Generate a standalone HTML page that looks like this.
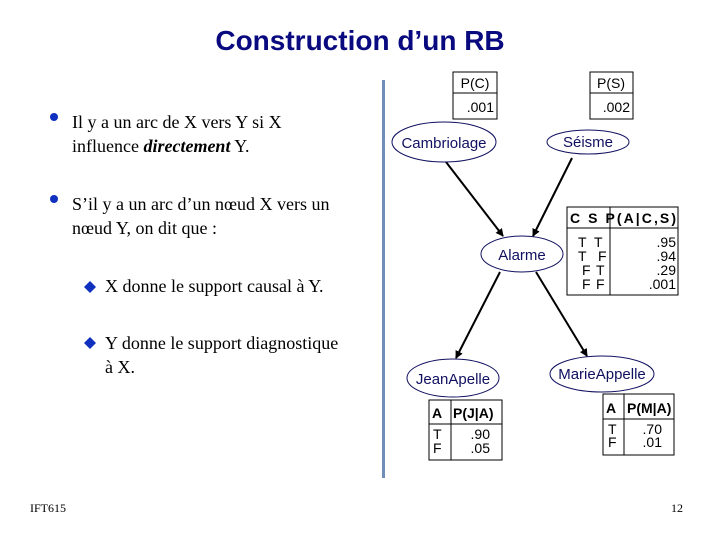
<!DOCTYPE html>
<html><head><meta charset="utf-8"><style>
html,body{margin:0;padding:0;background:#fff}
svg{display:block}
.s{font-family:"Liberation Serif",serif;font-size:18px;fill:#000}
.a{font-family:"Liberation Sans",sans-serif;font-size:14px;fill:#000}
.n{font-family:"Liberation Sans",sans-serif;font-size:15px;fill:#101060}
</style></head><body>
<svg width="720" height="540" viewBox="0 0 720 540" xmlns="http://www.w3.org/2000/svg">
<defs><marker id="ar" markerWidth="8" markerHeight="8" refX="7" refY="4" orient="auto" markerUnits="userSpaceOnUse"><path d="M0,0 L8,4 L0,8 z" fill="#000"/></marker></defs>
<text x="360" y="50" text-anchor="middle" font-family="Liberation Sans,sans-serif" font-size="28" font-weight="bold" fill="#0a0a80">Construction d’un RB</text>
<rect x="382" y="80" width="3" height="398" fill="#6f8fb8"/>
<!-- left text -->
<circle cx="54" cy="117" r="4" fill="#1030c0"/>
<text class="s" x="72" y="128">Il y a un arc de X vers Y si X</text>
<text class="s" x="72" y="152">influence <tspan font-weight="bold" font-style="italic">directement</tspan> Y.</text>
<circle cx="54" cy="199" r="4" fill="#1030c0"/>
<text class="s" x="72" y="210">S’il y a un arc d’un nœud X vers un</text>
<text class="s" x="72" y="234">nœud Y, on dit que :</text>
<path d="M90,281 l6,6 l-6,6 l-6,-6z" fill="#1030c0"/>
<text class="s" x="105" y="292">X donne le support causal à Y.</text>
<path d="M90,337 l6,6 l-6,6 l-6,-6z" fill="#1030c0"/>
<text class="s" x="105" y="349">Y donne le support diagnostique</text>
<text class="s" x="105" y="373">à X.</text>
<text x="30" y="512" font-family="Liberation Serif,serif" font-size="12">IFT615</text>
<text x="683" y="512" text-anchor="end" font-family="Liberation Serif,serif" font-size="12">12</text>
<!-- tables -->
<g fill="none" stroke="#000" stroke-width="1">
<rect x="453" y="72" width="44" height="47"/><line x1="453" y1="93" x2="497" y2="93"/>
<rect x="590" y="72" width="43" height="47"/><line x1="590" y1="93" x2="633" y2="93"/>
<rect x="567" y="207" width="111" height="88"/><line x1="567" y1="228" x2="678" y2="228"/><line x1="610" y1="207" x2="610" y2="295"/>
<rect x="429" y="400" width="73" height="60"/><line x1="429" y1="424" x2="502" y2="424"/><line x1="451" y1="400" x2="451" y2="460"/>
<rect x="603" y="394" width="71" height="61"/><line x1="603" y1="419" x2="674" y2="419"/><line x1="624" y1="394" x2="624" y2="455"/>
</g>
<text class="a" x="475" y="88" text-anchor="middle">P(C)</text>
<text class="a" x="494" y="112" text-anchor="end">.001</text>
<text class="a" x="611" y="88" text-anchor="middle">P(S)</text>
<text class="a" x="630" y="112" text-anchor="end">.002</text>
<text class="a" x="570" y="223" font-weight="bold" textLength="106">C  S  P(A|C,S)</text>
<g class="a"><text x="578" y="247">T</text><text x="578" y="261">T</text><text x="582" y="275">F</text><text x="582" y="289">F</text>
<text x="594" y="247">T</text><text x="598" y="261">F</text><text x="596" y="275">T</text><text x="596" y="289">F</text>
<text x="676" y="247" text-anchor="end">.95</text><text x="676" y="261" text-anchor="end">.94</text><text x="676" y="275" text-anchor="end">.29</text><text x="676" y="289" text-anchor="end">.001</text></g>
<text class="a" x="432" y="418" font-weight="bold">A</text><text class="a" x="453" y="418" font-weight="bold">P(J|A)</text>
<text class="a" x="433" y="439">T</text><text class="a" x="433" y="453">F</text>
<text class="a" x="490" y="439" text-anchor="end">.90</text><text class="a" x="490" y="453" text-anchor="end">.05</text>
<text class="a" x="606" y="413" font-weight="bold">A</text><text class="a" x="627" y="413" font-weight="bold">P(M|A)</text>
<text class="a" x="608" y="434">T</text><text class="a" x="608" y="447">F</text>
<text class="a" x="662" y="434" text-anchor="end">.70</text><text class="a" x="662" y="447" text-anchor="end">.01</text>
<!-- edges -->
<g stroke="#000" stroke-width="2" marker-end="url(#ar)">
<line x1="446" y1="162" x2="503" y2="236"/>
<line x1="572" y1="158" x2="533" y2="236"/>
<line x1="500" y1="272" x2="456" y2="358"/>
<line x1="536" y1="272" x2="587" y2="356"/>
</g>
<!-- nodes -->
<g fill="#fff" stroke="#101060" stroke-width="1">
<ellipse cx="444" cy="142" rx="52" ry="20"/>
<ellipse cx="588" cy="142" rx="41" ry="12"/>
<ellipse cx="522" cy="254" rx="41" ry="18"/>
<ellipse cx="453" cy="378" rx="46" ry="19"/>
<ellipse cx="602" cy="374" rx="52" ry="18"/>
</g>
<text class="n" x="444" y="148" text-anchor="middle">Cambriolage</text>
<text class="n" x="588" y="147" text-anchor="middle">Séisme</text>
<text class="n" x="522" y="260" text-anchor="middle">Alarme</text>
<text class="n" x="453" y="384" text-anchor="middle">JeanApelle</text>
<text class="n" x="602" y="379" text-anchor="middle">MarieAppelle</text>
</svg>
</body></html>
